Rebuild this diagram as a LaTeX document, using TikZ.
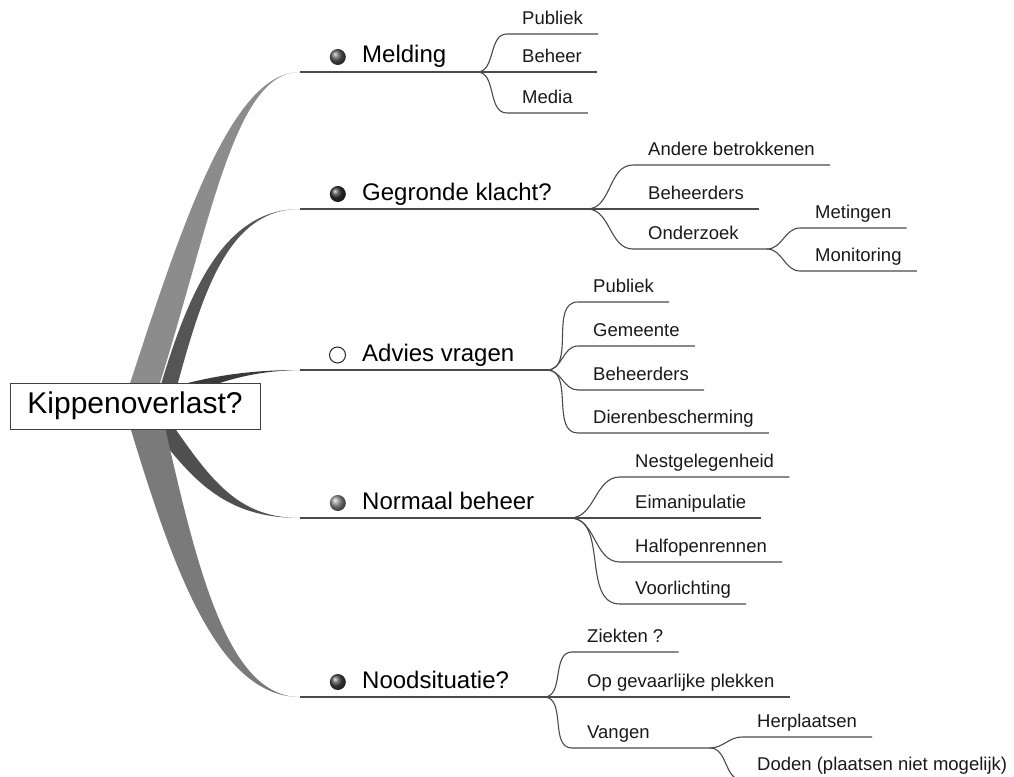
\documentclass[tikz,border=0pt]{standalone}
\usepackage{fontspec}
\setmainfont{Liberation Sans}
\usetikzlibrary{positioning}
\definecolor{ribmel}{HTML}{8C8C8C}
\definecolor{ribgeg}{HTML}{555555}
\definecolor{ribadv}{HTML}{3A3A3A}
\definecolor{ribnor}{HTML}{505050}
\definecolor{ribnoo}{HTML}{7A7A7A}
\definecolor{linegray}{HTML}{4A4A4A}
\begin{document}
\begin{tikzpicture}[x=1pt,y=-1pt,
    rootsty/.style={draw=black!75,fill=white,line width=1pt,minimum width=250pt,
      minimum height=46pt,font=\fontsize{30}{32}\selectfont},
    mainsty/.style={anchor=base west,inner sep=0pt,text height=17pt,text depth=5pt,
      font=\fontsize{24}{26}\selectfont},
    leafsty/.style={anchor=south west,inner xsep=15pt,inner ysep=0pt,text depth=9pt,
      text=black!90,font=\fontsize{18.5}{20}\selectfont},
    dotsty/.style={circle,minimum size=16pt,inner sep=0pt},
    stemsty/.style={draw=linegray,line width=1.4pt},
    twigsty/.style={draw=linegray,line width=1.1pt}]
  \useasboundingbox (0,0) rectangle (1014,776);
  \clip (0,0) rectangle (1014,776);

  % eindpunten van de linten en splitsingen
  \coordinate (melr) at (300,72);
  \coordinate (melf) at (477,72);
  \coordinate (gegr) at (300,209);
  \coordinate (gegf) at (587,209);
  \coordinate (advr) at (300,370);
  \coordinate (advf) at (547,370);
  \coordinate (norr) at (300,518);
  \coordinate (norf) at (570,518);
  \coordinate (noor) at (300,697);
  \coordinate (noof) at (544,697);
  \coordinate (onzf) at (767,249);
  \coordinate (vanf) at (710,748);

  % linten vanuit de kern
  \fill[ribmel] (122,408) .. controls (180,230) and (230,72) .. (melr)
    .. controls (232,72) and (210,230) .. (152,408) -- cycle;
  \fill[ribgeg] (155,405) .. controls (185,300) and (220,209) .. (gegr)
    .. controls (225,209) and (200,300) .. (172,405) -- cycle;
  \fill[ribadv] (145,395) .. controls (200,378) and (240,370) .. (advr)
    .. controls (240,371) and (200,388) .. (160,410) -- cycle;
  \fill[ribnor] (135,405) .. controls (185,470) and (215,518) .. (norr)
    .. controls (230,518) and (205,470) .. (155,400) -- cycle;
  \fill[ribnoo] (125,410) .. controls (170,560) and (215,697) .. (noor)
    .. controls (225,697) and (195,560) .. (160,405) -- cycle;

  \node[rootsty] (root) at (135,406) {Kippenoverlast?};

  % hoofdtakken
  \draw[stemsty] (melr) -- (melf);
  \draw[stemsty] (gegr) -- (gegf);
  \draw[stemsty] (advr) -- (advf);
  \draw[stemsty] (norr) -- (norf);
  \draw[stemsty] (noor) -- (noof);

  \node[mainsty] (mel) at (362,63) {Melding};
  \node[dotsty,ball color=black!65] (meldot) [left=16pt of mel] {};
  \node[mainsty] (geg) at (362,200) {Gegronde klacht?};
  \node[dotsty,ball color=black!80] (gegdot) [left=16pt of geg] {};
  \node[mainsty] (adv) at (362,361) {Advies vragen};
  \node[dotsty,draw=black!85,fill=white,line width=1pt] (advdot) [left=16pt of adv] {};
  \node[mainsty] (nor) at (362,509) {Normaal beheer};
  \node[dotsty,ball color=black!45] (nordot) [left=16pt of nor] {};
  \node[mainsty] (noo) at (362,688) {Noodsituatie?};
  \node[dotsty,ball color=black!72] (noodot) [left=16pt of noo] {};

  % Melding
  \node[leafsty] (mpub) at (507,34) {Publiek};
  \node[leafsty] (mbeh) at (507,72) {Beheer};
  \node[leafsty] (mmed) at (507,113) {Media};
  \draw[twigsty] (melf) to[out=0,in=180] (mpub.south west) -- (mpub.south east);
  \draw[twigsty] (melf) -- (mbeh.south west) -- (mbeh.south east);
  \draw[twigsty] (melf) to[out=0,in=180] (mmed.south west) -- (mmed.south east);

  % Gegronde klacht?
  \node[leafsty] (gand) at (633,165) {Andere betrokkenen};
  \node[leafsty] (gbeh) at (633,209) {Beheerders};
  \node[leafsty] (gonz) at (633,249) {Onderzoek};
  \draw[twigsty] (gegf) to[out=0,in=180] (gand.south west) -- (gand.south east);
  \draw[twigsty] (gegf) -- (gbeh.south west) -- (gbeh.south east);
  \draw[twigsty] (gegf) to[out=0,in=180] (gonz.south west) -- (onzf);
  \node[leafsty] (omet) at (800,228) {Metingen};
  \node[leafsty] (omon) at (800,271) {Monitoring};
  \draw[twigsty] (onzf) to[out=0,in=180] (omet.south west) -- (omet.south east);
  \draw[twigsty] (onzf) to[out=0,in=180] (omon.south west) -- (omon.south east);

  % Advies vragen
  \node[leafsty] (apub) at (578,302) {Publiek};
  \node[leafsty] (agem) at (578,346) {Gemeente};
  \node[leafsty] (abeh) at (578,390) {Beheerders};
  \node[leafsty] (adie) at (578,433) {Dierenbescherming};
  \draw[twigsty] (advf) to[out=0,in=180] (apub.south west) -- (apub.south east);
  \draw[twigsty] (advf) to[out=0,in=180] (agem.south west) -- (agem.south east);
  \draw[twigsty] (advf) to[out=0,in=180] (abeh.south west) -- (abeh.south east);
  \draw[twigsty] (advf) to[out=0,in=180] (adie.south west) -- (adie.south east);

  % Normaal beheer
  \node[leafsty] (nnes) at (620,477) {Nestgelegenheid};
  \node[leafsty] (neim) at (620,518) {Eimanipulatie};
  \node[leafsty] (nhal) at (620,562) {Halfopenrennen};
  \node[leafsty] (nvoo) at (620,604) {Voorlichting};
  \draw[twigsty] (norf) to[out=0,in=180] (nnes.south west) -- (nnes.south east);
  \draw[twigsty] (norf) -- (neim.south west) -- (neim.south east);
  \draw[twigsty] (norf) to[out=0,in=180] (nhal.south west) -- (nhal.south east);
  \draw[twigsty] (norf) to[out=0,in=180] (nvoo.south west) -- (nvoo.south east);

  % Noodsituatie?
  \node[leafsty] (zie) at (572,652) {Ziekten ?};
  \node[leafsty] (gev) at (572,697) {Op gevaarlijke plekken};
  \node[leafsty] (van) at (572,748) {Vangen};
  \draw[twigsty] (noof) to[out=0,in=180] (zie.south west) -- (zie.south east);
  \draw[twigsty] (noof) -- (gev.south west) -- (gev.south east);
  \draw[twigsty] (noof) to[out=0,in=180] (van.south west) -- (vanf);
  \node[leafsty] (vher) at (742,737) {Herplaatsen};
  \node[leafsty] (vdod) at (742,780) {Doden (plaatsen niet mogelijk)};
  \draw[twigsty] (vanf) to[out=0,in=180] (vher.south west) -- (vher.south east);
  \draw[twigsty] (vanf) to[out=0,in=180] (vdod.south west) -- (vdod.south east);
\end{tikzpicture}
\end{document}
